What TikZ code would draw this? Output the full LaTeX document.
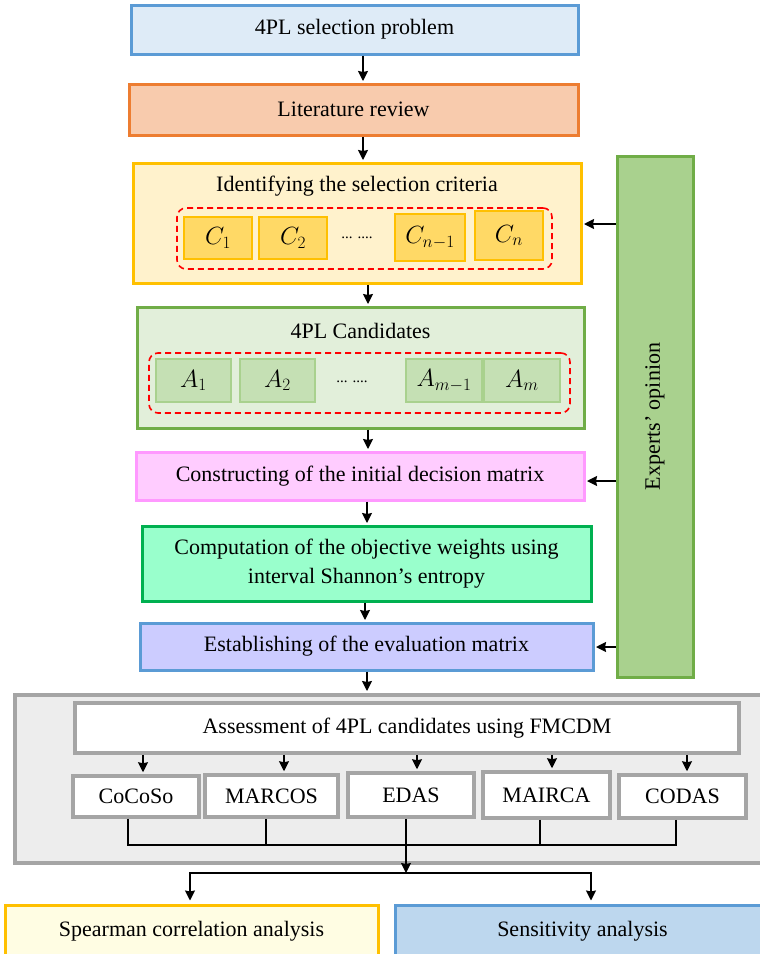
\documentclass[tikz,border=0pt]{standalone}
\usepackage{fontspec}
\setmainfont{Liberation Serif}
\usetikzlibrary{arrows.meta,calc}
\definecolor{blueB}{HTML}{5B9BD5}
\definecolor{blueF}{HTML}{DEEBF7}
\definecolor{orangeB}{HTML}{ED7D31}
\definecolor{orangeF}{HTML}{F8CBAD}
\definecolor{goldB}{HTML}{FFC000}
\definecolor{goldF}{HTML}{FFF2CC}
\definecolor{goldC}{HTML}{FFD966}
\definecolor{greenB}{HTML}{70AD47}
\definecolor{greenF}{HTML}{E2EFDA}
\definecolor{greenA}{HTML}{C5E0B4}
\definecolor{greenAB}{HTML}{A9D18E}
\definecolor{pinkB}{HTML}{FF99FF}
\definecolor{pinkF}{HTML}{FFCCFF}
\definecolor{mintB}{HTML}{00B050}
\definecolor{mintF}{HTML}{99FFCC}
\definecolor{lilacF}{HTML}{CCCCFF}
\definecolor{expF}{HTML}{A9D18E}
\definecolor{grayB}{HTML}{A5A5A5}
\definecolor{grayF}{HTML}{EDEDED}
\definecolor{spF}{HTML}{FFFDE3}
\definecolor{seF}{HTML}{BDD7EE}
\begin{document}
\begin{tikzpicture}[x=1pt,y=-1pt,
  box/.style={draw, line width=3pt, inner sep=0pt, align=center, font=\fontsize{22}{29}\selectfont},
  subbox/.style={draw, line width=1.5pt, inner sep=0pt, font=\fontsize{23}{26}\selectfont},
  dashbox/.style={draw=red, dash pattern=on 6pt off 4pt, line width=1.6pt, rounded corners=9pt},
  gbox/.style={draw=grayB, line width=3.5pt, fill=white, inner sep=0pt, font=\fontsize{22}{26}\selectfont},
  lbl/.style={inner sep=0pt, font=\fontsize{22}{26}\selectfont},
  dotlbl/.style={inner sep=0pt, font=\fontsize{15}{18}\selectfont},
  arr/.style={line width=1.6pt, -{Stealth[length=10pt,width=10pt,inset=1pt]}},
  ln/.style={line width=1.6pt}
]
\useasboundingbox (0,0) rectangle (760,954);
\clip (0,0) rectangle (760,954);

% top boxes
\node[box, draw=blueB, fill=blueF, minimum width=447pt, minimum height=49pt] (b1) at (354.5,29.5) {4PL selection problem};
\node[box, draw=orangeB, fill=orangeF, minimum width=449pt, minimum height=51pt] (b2) at (353.5,109.5) {Literature review};

% criteria box
\node[box, draw=goldB, fill=goldF, minimum width=448pt, minimum height=120pt] (b3) at (357,223) {};
\node[lbl] (t3) at (357,186) {Identifying the selection criteria};
\node[dashbox, minimum width=375pt, minimum height=61pt] (d1) at (364.5,238.5) {};
\node[subbox, draw=goldB, fill=goldC, minimum width=68pt, minimum height=42pt] (c1) at (218,238) {$C_1$};
\node[subbox, draw=goldB, fill=goldC, minimum width=68pt, minimum height=42pt] (c2) at (293,238) {$C_2$};
\node[dotlbl] (cd) at (357,238) {... ....};
\node[subbox, draw=goldB, fill=goldC, minimum width=70pt, minimum height=47pt] (cn1) at (430,237.5) {$C_{n-1}$};
\node[subbox, draw=goldB, fill=goldC, minimum width=68pt, minimum height=49pt] (cn) at (509,235.5) {$C_n$};

% candidates box
\node[box, draw=greenB, fill=greenF, minimum width=447pt, minimum height=121pt] (b4) at (360.5,367.5) {};
\node[lbl] (t4) at (360.5,331) {4PL Candidates};
\node[dashbox, minimum width=421pt, minimum height=60pt] (d2) at (359.5,383) {};
\node[subbox, draw=greenAB, fill=greenA, minimum width=75pt, minimum height=43pt] (a1) at (193.5,380.5) {$A_1$};
\node[subbox, draw=greenAB, fill=greenA, minimum width=75pt, minimum height=43pt] (a2) at (277.5,380.5) {$A_2$};
\node[dotlbl] (ad) at (352,382) {... ....};
\node[subbox, draw=greenAB, fill=greenA, minimum width=76pt, minimum height=43pt] (am1) at (444,380.5) {$A_{m-1}$};
\node[subbox, draw=greenAB, fill=greenA, minimum width=76pt, minimum height=43pt] (am) at (522,380.5) {$A_m$};

% process boxes
\node[box, draw=pinkB, fill=pinkF, minimum width=448pt, minimum height=48pt] (b5) at (360,476) {Constructing of the initial decision matrix};
\node[box, draw=mintB, fill=mintF, minimum width=449pt, minimum height=75pt] (b6) at (366.5,563.5) {Computation of the objective weights using\\interval Shannon’s entropy};
\node[box, draw=blueB, fill=lilacF, minimum width=453pt, minimum height=47pt] (b7) at (366.5,646.5) {Establishing of the evaluation matrix};

% experts
\node[box, draw=greenB, fill=expF, minimum width=76pt, minimum height=521pt] (exp) at (655,416.5) {};
\node[lbl, rotate=90] (et) at (exp.center) {Experts’ opinion};

% assessment block
\node[draw=grayB, fill=grayF, line width=4pt, minimum width=760pt, minimum height=168pt, inner sep=0pt] (big) at (395,779) {};
\node[gbox, minimum width=664pt, minimum height=50pt] (ass) at (407,728) {Assessment of 4PL candidates using FMCDM};
\node[gbox, minimum width=126pt, minimum height=41pt] (m1) at (136,796.5) {CoCoSo};
\node[gbox, minimum width=133pt, minimum height=42pt] (m2) at (271.5,796) {MARCOS};
\node[gbox, minimum width=126pt, minimum height=44pt] (m3) at (411,795) {EDAS};
\node[gbox, minimum width=127pt, minimum height=46pt] (m4) at (546.5,795) {MAIRCA};
\node[gbox, minimum width=127pt, minimum height=43pt] (m5) at (682.5,796.5) {CODAS};

% bottom boxes
\node[box, draw=goldB, fill=spF, minimum width=373pt, minimum height=52pt] (sp) at (191.5,931) {Spearman correlation analysis};
\node[box, draw=blueB, fill=seF, minimum width=375pt, minimum height=52pt] (se) at (582.5,931) {Sensitivity analysis};

% main flow arrows
\draw[arr, shorten >=1.5pt] ([xshift=8.5pt]b1.south) -- ([xshift=8.5pt]b1.south |- b2.north);
\draw[arr, shorten >=1.5pt] ([xshift=9.5pt]b2.south) -- ([xshift=9.5pt]b2.south |- b3.north);
\draw[arr, shorten >=1.5pt] ([xshift=11pt]b3.south) -- ([xshift=11pt]b3.south |- b4.north);
\draw[arr, shorten >=1.5pt] ([xshift=7.5pt]b4.south) -- ([xshift=7.5pt]b4.south |- b5.north);
\draw[arr, shorten >=1.5pt] ([xshift=7pt]b5.south) -- ([xshift=7pt]b5.south |- b6.north);
\draw[arr, shorten >=1.5pt] ([xshift=-1.5pt]b6.south) -- ([xshift=-1.5pt]b6.south |- b7.north);
\draw[arr, shorten >=2pt] ([xshift=0.5pt]b7.south) -- ([xshift=0.5pt]b7.south |- big.north);

% expert arrows
\draw[arr, shorten >=1.5pt] ([yshift=-1pt]exp.west |- b3.east) -- ([yshift=-1pt]b3.east);
\draw[arr, shorten >=1.5pt] ([yshift=-5pt]exp.west |- b5.east) -- ([yshift=-5pt]b5.east);
\draw[arr, shorten >=1.5pt] ([yshift=-0.5pt]exp.west |- b7.east) -- ([yshift=-0.5pt]b7.east);

% method arrows
\draw[arr, shorten >=2pt] ([xshift=7pt]m1.north |- ass.south) -- ([xshift=7pt]m1.north);
\draw[arr, shorten >=2pt] ([xshift=12.5pt]m2.north |- ass.south) -- ([xshift=12.5pt]m2.north);
\draw[arr, shorten >=2pt] ([xshift=6pt]m3.north |- ass.south) -- ([xshift=6pt]m3.north);
\draw[arr, shorten >=2pt] ([xshift=5.5pt]m4.north |- ass.south) -- ([xshift=5.5pt]m4.north);
\draw[arr, shorten >=2pt] ([xshift=4.5pt]m5.north |- ass.south) -- ([xshift=4.5pt]m5.north);

% bus
\coordinate (bus) at (406,845);
\coordinate (split) at (406,873);
\draw[ln] ([xshift=-8pt]m1.south) -- ([xshift=-8pt]m1.south |- bus);
\draw[ln] ([xshift=-5.5pt]m2.south) -- ([xshift=-5.5pt]m2.south |- bus);
\draw[ln] ([xshift=-5pt]m3.south) -- ([xshift=-5pt]m3.south |- bus);
\draw[ln] ([xshift=-6.5pt]m4.south) -- ([xshift=-6.5pt]m4.south |- bus);
\draw[ln] ([xshift=-6.5pt]m5.south) -- ([xshift=-6.5pt]m5.south |- bus);
\draw[ln] ([xshift=-8.8pt]m1.south |- bus) -- ([xshift=-5.7pt]m5.south |- bus);
\draw[arr] (bus) -- (split);
\draw[ln] ([xshift=-2.3pt]sp.north |- split) -- ([xshift=9.3pt]se.north |- split);
\draw[arr, shorten >=3pt] ([xshift=-1.5pt]sp.north |- split) -- ([xshift=-1.5pt]sp.north);
\draw[arr, shorten >=3pt] ([xshift=8.5pt]se.north |- split) -- ([xshift=8.5pt]se.north);
\end{tikzpicture}
\end{document}
